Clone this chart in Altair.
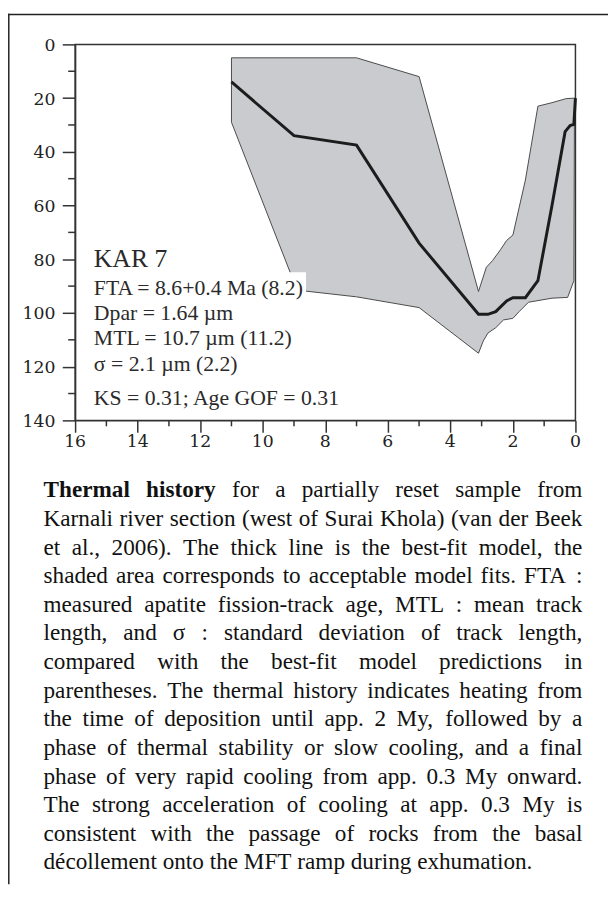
import altair as alt
import pandas as pd

# ---------------- data ----------------
# envelope of acceptable fits (time in Ma, temperature in °C), drawn as a closed outline
env_age = [11, 7, 5, 3.1, 2.85, 2.65, 2.4, 2.2, 2.0, 1.6, 1.2, 0.75, 0.3, 0.03,
           0.05, 0.25, 0.75, 1.5, 1.8, 2.0, 2.3, 2.55, 2.8, 2.95, 3.1, 5, 7, 8.9, 11, 11]
env_temp = [5, 5, 12, 92, 83, 80.5, 76.5, 73, 71, 50.5, 23, 21.7, 20.2, 20,
            88, 94.2, 94.5, 96, 99.5, 102, 102.6, 105.5, 107.5, 110.5, 115, 98, 94, 91.5, 29, 5]

# best-fit model
best_age = [11, 9, 7, 5, 3.1, 2.8, 2.55, 2.2, 2.0, 1.6, 1.2, 0.75, 0.33, 0.17, 0.05, 0]
best_temp = [14, 34, 37.5, 74, 100.5, 100.5, 99.5, 95.5, 94.3, 94.3, 88, 60, 32.5, 30.2, 29.8, 20]

x_major = list(range(0, 17, 2))
x_minor = list(range(1, 17, 2))
y_major = list(range(0, 141, 20))
y_minor = list(range(10, 141, 20))

sample_name = "KAR 7"
sample_lines = [
    "FTA = 8.6+0.4 Ma (8.2)",
    "Dpar = 1.64 µm",
    "MTL = 10.7 µm (11.2)",
    "σ = 2.1 µm (2.2)",
    "KS = 0.31; Age GOF = 0.31",
]

caption_lines = [
    "Thermal history for a partially reset sample from",
    "Karnali river section (west of Surai Khola) (van der Beek",
    "et al., 2006). The thick line is the best-fit model, the",
    "shaded area corresponds to acceptable model fits.  FTA :",
    "measured apatite fission-track age, MTL : mean track",
    "length, and σ : standard deviation of track length,",
    "compared with the best-fit model predictions in",
    "parentheses. The thermal history indicates heating from",
    "the time of deposition until app. 2 My, followed by a",
    "phase of thermal stability or slow cooling, and a final",
    "phase of very rapid cooling from app. 0.3 My onward.",
    "The strong acceleration of cooling at app. 0.3 My is",
    "consistent with the passage of rocks from the basal",
    "décollement onto the MFT ramp during exhumation.",
]
bold_words = 2  # "Thermal history"

# ---------------- layout ----------------
W, H = 507, 381
X0, X1 = 16.0, 0.0     # age at left / right edge
Y0, Y1 = 0.0, 140.0    # temperature at top / bottom edge
FONT = "Liberation Serif"
TICK_FONT = "DejaVu Serif"
INK = "#2a2a2a"
AX = "#333"
TICK_FS = 17.5


def px_to_age(px):
    return X0 + (X1 - X0) * px / W


def py_to_temp(py):
    return Y0 + (Y1 - Y0) * py / H


env_df = pd.DataFrame({"age": env_age, "temp": env_temp, "i": range(len(env_age))})
best_df = pd.DataFrame({"age": best_age, "temp": best_temp, "i": range(len(best_age))})

xs = alt.Scale(domain=[0, 16], reverse=True, nice=False, zero=False)
ys = alt.Scale(domain=[0, 140], reverse=True, nice=False, zero=False)

x_axis = alt.Axis(
    values=x_major, title=None, grid=False, tickSize=12, labels=False,
    tickWidth=1.5, tickColor=AX, domainColor=AX, domainWidth=1.5,
)
y_axis = alt.Axis(
    values=y_major, title=None, grid=False, tickSize=13, labels=False,
    tickWidth=1.5, tickColor=AX, domainColor=AX, domainWidth=1.5,
)


def X(field):
    return alt.X(field, type="quantitative", scale=xs, axis=x_axis)


def Y(field):
    return alt.Y(field, type="quantitative", scale=ys, axis=y_axis)


envelope = alt.Chart(env_df).mark_line(
    fill="#c9cbce", stroke="#4a4a4a", strokeWidth=1, interpolate="linear"
).encode(x=X("age"), y=Y("temp"), order="i:Q")

best = alt.Chart(best_df).mark_line(color="#1c1c1c", strokeWidth=3).encode(
    x=X("age"), y=Y("temp"), order="i:Q")

# minor ticks
xminor = alt.Chart(pd.DataFrame({"v": x_minor})).mark_rule(color=AX, strokeWidth=1.5).encode(
    x=X("v"), y=alt.value(H), y2=alt.value(H + 6))
yminor = alt.Chart(pd.DataFrame({"v": y_minor})).mark_rule(color=AX, strokeWidth=1.5).encode(
    y=Y("v"), x=alt.value(-7), x2=alt.value(0))

# tick labels
xlab = alt.Chart(pd.DataFrame({"v": x_major})).mark_text(
    font=TICK_FONT, fontSize=TICK_FS, color="#222", align="center", baseline="alphabetic"
).encode(x=X("v"), y=alt.value(H + 27), text=alt.Text("v:Q", format="d"))
ylab = alt.Chart(pd.DataFrame({"v": y_major})).mark_text(
    font=TICK_FONT, fontSize=TICK_FS, color="#222", align="right", baseline="alphabetic", dy=6.5
).encode(y=Y("v"), x=alt.value(-20), text=alt.Text("v:Q", format="d"))

one = pd.DataFrame({"k": [0]})
whitebox = alt.Chart(one).mark_rect(color="white").encode(
    x=alt.value(2), x2=alt.value(234), y=alt.value(231), y2=alt.value(375)
)

# annotation block (layout positions in pixels from the plot origin, mapped to axis units)
ann_rows = [{"t": sample_name, "px": 19, "py": 226, "fs": 26}]
ann_y = [254, 279, 305, 331, 365]
for t, yy in zip(sample_lines, ann_y):
    ann_rows.append({"t": t, "px": 19, "py": yy, "fs": 22})
ann_df = pd.DataFrame(ann_rows)
ann_df["ax"] = ann_df["px"].map(px_to_age)
ann_df["ay"] = ann_df["py"].map(py_to_temp)
ann = alt.Chart(ann_df).mark_text(align="left", baseline="alphabetic", font=FONT, color=INK).encode(
    x=X("ax"), y=Y("ay"),
    size=alt.Size("fs:Q", scale=None, legend=None),
    text="t:N",
)

# caption: justified text built word by word with Times metrics
TR = {' ': 250, 'a': 444, 'b': 500, 'c': 444, 'd': 500, 'e': 444, 'f': 333, 'g': 500, 'h': 500,
      'i': 278, 'j': 278, 'k': 500, 'l': 278, 'm': 778, 'n': 500, 'o': 500, 'p': 500, 'q': 500,
      'r': 333, 's': 389, 't': 278, 'u': 500, 'v': 500, 'w': 722, 'x': 500, 'y': 500, 'z': 444,
      'A': 722, 'B': 667, 'C': 667, 'D': 722, 'E': 611, 'F': 556, 'G': 722, 'H': 722, 'I': 333,
      'K': 722, 'L': 611, 'M': 889, 'N': 722, 'O': 722, 'P': 556, 'R': 667, 'S': 556, 'T': 611,
      'U': 722, 'V': 722, 'W': 944, 'Y': 722, '.': 250, ',': 250, ':': 278, ';': 278, '(': 333,
      ')': 333, '-': 333, 'é': 444, 'σ': 550}
TB = {'T': 667, 'h': 556, 'e': 444, 'r': 444, 'm': 833, 'a': 500, 'l': 278, 'i': 278, 's': 389,
      't': 333, 'o': 500, 'y': 500}
CAP_FS = 23.5
CAP_LEFT, CAP_RIGHT = -32, 514
CAP_Y0, CAP_DY = 459, 29


def width(word, bold):
    tab = TB if bold else TR
    return sum(tab.get(c, TR.get(c, 500)) for c in word) * CAP_FS / 1000.0


cap_rows = []
for li, line in enumerate(caption_lines):
    words = line.split()
    flags = [(li == 0 and wi < bold_words) for wi in range(len(words))]
    ws = [width(w, b) for w, b in zip(words, flags)]
    if li == len(caption_lines) - 1 or len(words) == 1:
        gap = 250 * CAP_FS / 1000.0
    else:
        gap = (CAP_RIGHT - CAP_LEFT - sum(ws)) / (len(words) - 1)
    x = CAP_LEFT
    for w, b, ww in zip(words, flags, ws):
        cap_rows.append({"w": w, "bold": "b" if b else "n",
                         "ax": px_to_age(x), "ay": py_to_temp(CAP_Y0 + CAP_DY * li)})
        x += ww + gap
cap_df = pd.DataFrame(cap_rows)

cap_base = alt.Chart(cap_df).encode(x=X("ax"), y=Y("ay"), text="w:N")
cap_n = cap_base.transform_filter("datum.bold === 'n'").mark_text(
    align="left", baseline="alphabetic", font=FONT, fontSize=CAP_FS, color="#111")
cap_b = cap_base.transform_filter("datum.bold === 'b'").mark_text(
    align="left", baseline="alphabetic", font=FONT, fontSize=CAP_FS, fontWeight="bold", color="#111")

# outer frame (left and top edges)
frame_left = alt.Chart(one).mark_rule(color="#222", strokeWidth=1.5).encode(
    x=alt.value(-67.2), y=alt.value(-31), y2=alt.value(851))
frame_top = alt.Chart(one).mark_rule(color="#222", strokeWidth=1.5).encode(
    x=alt.value(-68), x2=alt.value(540), y=alt.value(-30.2))

chart = alt.layer(
    envelope, best, xminor, yminor, xlab, ylab, whitebox, ann, cap_n, cap_b, frame_left, frame_top
).properties(
    width=W, height=H,
    autosize=alt.AutoSizeParams(type="none"),
    padding={"left": 68, "top": 31, "right": 33, "bottom": 470},
    background="white",
).configure_view(
    stroke=AX, strokeWidth=1.5
)

chart.save("out.html", embed_options={"renderer": "svg", "actions": False})
